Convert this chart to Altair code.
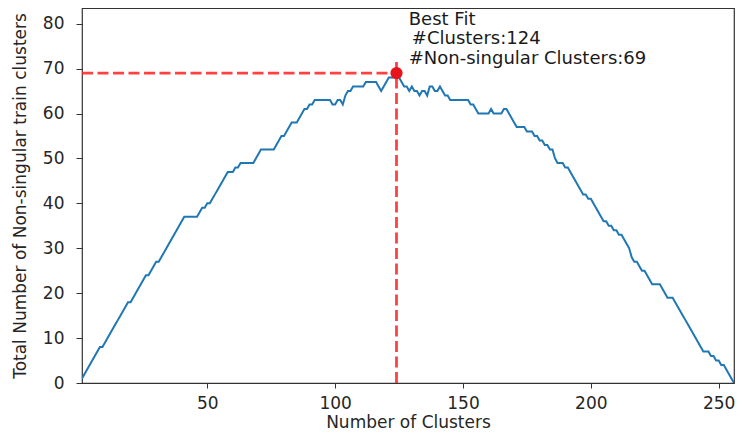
import altair as alt
import pandas as pd

# Number of clusters (x) and total number of non-singular train clusters (y)
clusters = list(range(1, 257))
non_singular = [
    1, 2, 3, 4, 5, 6, 7, 8, 8, 9,                # 1-10
    10, 11, 12, 13, 14, 15, 16, 17, 18, 18,      # 11-20
    19, 20, 21, 22, 23, 24, 24, 25, 26, 27,      # 21-30
    27, 28, 29, 30, 31, 32, 33, 34, 35, 36,      # 31-40
    37, 37, 37, 37, 37, 37, 38, 39, 39, 40,      # 41-50
    40, 41, 42, 43, 44, 45, 46, 47, 47, 47,      # 51-60
    48, 48, 49, 49, 49, 49, 49, 49, 50, 51,      # 61-70
    52, 52, 52, 52, 52, 52, 53, 54, 55, 55,      # 71-80
    56, 57, 58, 58, 58, 59, 60, 61, 61, 62,      # 81-90
    62, 63, 63, 63, 63, 63, 63, 63, 62, 62,      # 91-100
    63, 63, 62, 64, 65, 65, 66, 66, 66, 66,      # 101-110
    66, 67, 67, 67, 67, 67, 66, 65, 66, 67,      # 111-120
    68, 68, 68, 69, 68, 67, 66, 66, 65, 66,      # 121-130
    65, 65, 64, 65, 65, 64, 66, 66, 65, 65,      # 131-140
    66, 65, 64, 64, 63, 63, 63, 63, 63, 63,      # 141-150
    63, 63, 62, 62, 61, 60, 60, 60, 60, 60,      # 151-160
    61, 60, 60, 60, 60, 61, 61, 60, 59, 58,      # 161-170
    57, 57, 57, 57, 56, 56, 56, 55, 55, 54,      # 171-180
    54, 53, 53, 52, 52, 50, 49, 49, 49, 48,      # 181-190
    48, 47, 46, 45, 44, 43, 42, 42, 41, 41,      # 191-200
    40, 39, 38, 37, 36, 36, 35, 35, 34, 34,      # 201-210
    33, 33, 32, 31, 30, 28, 27, 27, 26, 25,      # 211-220
    25, 24, 23, 22, 22, 22, 22, 21, 20, 19,      # 221-230
    19, 19, 18, 17, 16, 15, 14, 13, 12, 11,      # 231-240
    10, 9, 8, 7, 7, 7, 6, 6, 5, 5,               # 241-250
    4, 4, 3, 2, 1, 0,                            # 251-256
]

best_clusters = 124
best_non_singular = 69
vline_top = 71.5
x_ticks = [50, 100, 150, 200, 250]
y_ticks = [0, 10, 20, 30, 40, 50, 60, 70, 80]
x_domain = [1, 256]
y_domain = [0, 83.5]

annot_text = ["Best Fit", "#Clusters:124", "#Non-singular Clusters:69"]
annot_x = [128.8, 130.0, 128.8]
annot_y = [80.8, 76.5, 72.1]

FONT = "DejaVu Sans"
TXT = "#262626"

df = pd.DataFrame({"x": clusters, "y": non_singular})
best_df = pd.DataFrame({"x": [best_clusters], "y": [best_non_singular]})
hline_df = pd.DataFrame({"x": [x_domain[0]], "x2": [best_clusters], "y": [best_non_singular]})
vline_df = pd.DataFrame({"x": [best_clusters], "y": [0], "y2": [vline_top]})
annot_df = pd.DataFrame({"x": annot_x, "y": annot_y, "t": annot_text})

xscale = alt.Scale(domain=x_domain, nice=False, zero=False)
yscale = alt.Scale(domain=y_domain, nice=False, zero=False)

xaxis = alt.Axis(values=x_ticks, title="Number of Clusters", grid=False, domain=False,
                 tickSize=5, tickColor="#333333", labelPadding=7, labelFontSize=17,
                 titleFontSize=17, labelFont=FONT, titleFont=FONT, labelColor=TXT,
                 titleColor=TXT, titleFontWeight="normal", titlePadding=3)
yaxis = alt.Axis(values=y_ticks, title="Total Number of Non-singular train clusters",
                 grid=False, domain=False, tickSize=6, tickColor="#333333",
                 labelPadding=12, labelFontSize=17, titleFontSize=17, labelFont=FONT,
                 titleFont=FONT, labelColor=TXT, titleColor=TXT,
                 titleFontWeight="normal", titlePadding=13)

line = alt.Chart(df).mark_line(color="#1f77b4", strokeWidth=2, clip=True).encode(
    x=alt.X("x:Q", scale=xscale, axis=xaxis),
    y=alt.Y("y:Q", scale=yscale, axis=yaxis),
)

dash = [11, 4.5]
hline = alt.Chart(hline_df).mark_rule(color="#ff2020", opacity=0.85, strokeWidth=2.8,
                                      strokeDash=dash).encode(
    x=alt.X("x:Q", scale=xscale), x2="x2:Q", y=alt.Y("y:Q", scale=yscale))
vline = alt.Chart(vline_df).mark_rule(color="#ff2020", opacity=0.85, strokeWidth=2.8,
                                      strokeDash=dash).encode(
    x=alt.X("x:Q", scale=xscale), y=alt.Y("y:Q", scale=yscale), y2="y2:Q")
point = alt.Chart(best_df).mark_circle(color="#e8141c", opacity=1, size=150).encode(
    x=alt.X("x:Q", scale=xscale), y=alt.Y("y:Q", scale=yscale))
text = alt.Chart(annot_df).mark_text(align="left", baseline="middle", font=FONT,
                                     fontSize=18, color="#1a1a1a").encode(
    x=alt.X("x:Q", scale=xscale), y=alt.Y("y:Q", scale=yscale), text="t:N")

chart = alt.layer(line, hline, vline, point, text).properties(
    width=652, height=375,
    autosize=alt.AutoSizeParams(type="none"),
    padding={"left": 74, "top": 0, "right": 1, "bottom": 48},
).configure_view(stroke="#333333", strokeWidth=1.2)

chart.save("out.html", embed_options={"renderer": "svg", "actions": False})
